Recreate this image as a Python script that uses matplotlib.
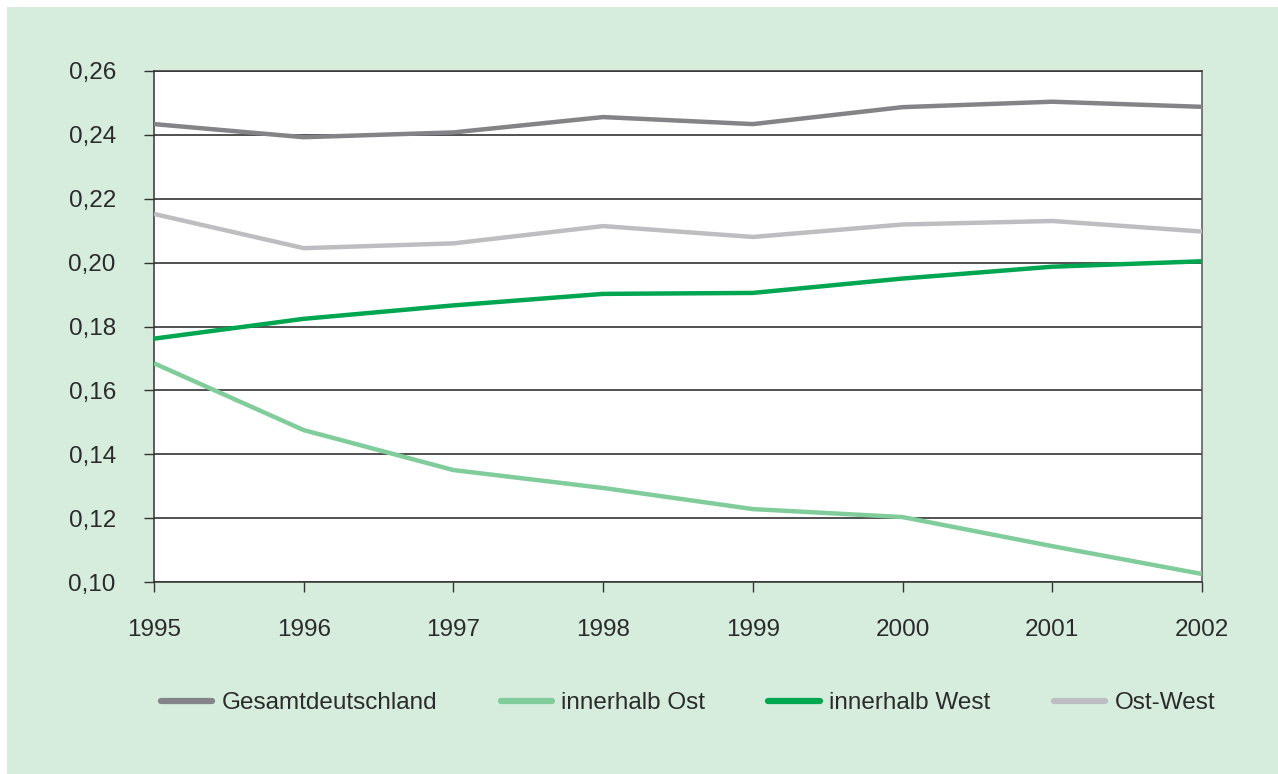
#!/usr/bin/env python3

import matplotlib.pyplot as plt
from matplotlib.patches import Rectangle
from matplotlib.ticker import FuncFormatter


YEARS = [1995, 1996, 1997, 1998, 1999, 2000, 2001, 2002]

GESAMT = [0.2433, 0.2392, 0.2407, 0.2455, 0.2433, 0.2486, 0.2503, 0.2487]
OST = [0.1685, 0.1476, 0.1351, 0.1295, 0.1229, 0.1204, 0.1113, 0.1026]
WEST = [0.1762, 0.1824, 0.1866, 0.1902, 0.1905, 0.1950, 0.1987, 0.2004]
OST_WEST = [0.2152, 0.2045, 0.2060, 0.2114, 0.2080, 0.2119, 0.2130, 0.2097]

SERIES = [
    ("Gesamtdeutschland", GESAMT, "#838388"),
    ("innerhalb Ost", OST, "#80cd9b"),
    ("innerhalb West", WEST, "#00a650"),
    ("Ost-West", OST_WEST, "#bebec2"),
]

Y_TICKS = [0.10, 0.12, 0.14, 0.16, 0.18, 0.20, 0.22, 0.24, 0.26]

BG = "#d6ecdd"
TEXT = "#2b2b2b"


def main():
    plt.rcParams["font.family"] = ["Liberation Sans", "DejaVu Sans"]

    fig = plt.figure(figsize=(12.78, 7.74), dpi=100, facecolor="white")
    # green panel with a thin white margin at top and left
    fig.patches.append(Rectangle((7 / 1278, -0.01), 1.02, 1.01 - 7 / 774,
                                 transform=fig.transFigure, facecolor=BG,
                                 edgecolor="none", zorder=-5))

    ax = fig.add_axes([154 / 1278, 191.7 / 774, 1048 / 1278, 511.6 / 774])
    ax.set_zorder(2)
    ax.set_facecolor("white")

    for label, values, color in SERIES:
        ax.plot(YEARS, values, color=color, lw=3.2, label=label,
                solid_capstyle="butt", zorder=3)

    ax.set_xlim(YEARS[0], YEARS[-1])
    ax.set_ylim(Y_TICKS[0], Y_TICKS[-1])
    ax.set_xticks(YEARS)
    ax.set_yticks(Y_TICKS)
    ax.yaxis.set_major_formatter(FuncFormatter(lambda v, _: f"{v:.2f}".replace(".", ",")))

    ax.grid(axis="y", color="#222222", lw=1.1, zorder=1)
    for side in ["left", "bottom", "top", "right"]:
        ax.spines[side].set_color("#333333")
        ax.spines[side].set_linewidth(1.1)
    ax.spines["right"].set_color("#555555")

    ax.tick_params(axis="both", direction="out", length=7.5, width=1.0,
                   color="#333333", labelsize=17.5, labelcolor=TEXT)
    ax.tick_params(axis="y", pad=20)
    ax.tick_params(axis="x", pad=19)

    handles, labels = ax.get_legend_handles_labels()
    leg = fig.legend(handles, labels, loc="center", ncol=4,
                     bbox_to_anchor=(688 / 1278, 1 - 703 / 774),
                     frameon=False, fontsize=17.5, handlelength=2.1,
                     handletextpad=0.4, columnspacing=2.6)
    for t in leg.get_texts():
        t.set_color(TEXT)
    for line in leg.get_lines():
        line.set_linewidth(4.5)
        line.set_solid_capstyle("round")

    fig.savefig("out.png", dpi=100, facecolor=fig.get_facecolor())


if __name__ == "__main__":
    main()
